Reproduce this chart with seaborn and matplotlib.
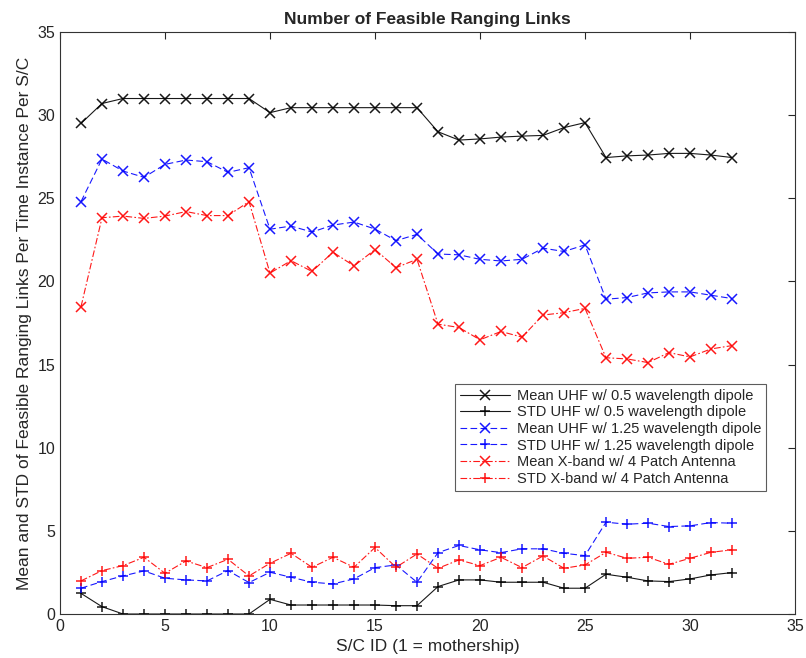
import numpy as np
import pandas as pd
import matplotlib
matplotlib.use("Agg")
import matplotlib.pyplot as plt
import seaborn as sns

sc_id = list(range(1, 33))

mean_uhf05 = [29.5, 30.7, 31.0, 31.0, 31.0, 31.0, 31.0, 31.0, 31.0, 30.15, 30.45, 30.45,
              30.45, 30.45, 30.45, 30.45, 30.45, 29.0, 28.5, 28.57, 28.68, 28.74, 28.78,
              29.25, 29.55, 27.45, 27.55, 27.6, 27.7, 27.7, 27.6, 27.45]
std_uhf05 = [1.24, 0.44, 0.0, 0.0, 0.0, 0.0, 0.0, 0.0, 0.0, 0.88, 0.54, 0.54,
             0.54, 0.54, 0.54, 0.5, 0.5, 1.65, 2.05, 2.05, 1.91, 1.91, 1.91,
             1.55, 1.55, 2.39, 2.21, 1.99, 1.95, 2.11, 2.35, 2.49]
mean_uhf125 = [24.8, 27.36, 26.64, 26.26, 27.04, 27.3, 27.2, 26.56, 26.84, 23.14, 23.33, 22.97,
               23.39, 23.57, 23.15, 22.45, 22.83, 21.65, 21.6, 21.33, 21.23, 21.33, 22.0,
               21.8, 22.2, 18.93, 19.03, 19.31, 19.37, 19.37, 19.17, 18.97]
std_uhf125 = [1.55, 1.95, 2.29, 2.59, 2.15, 2.05, 1.99, 2.61, 1.89, 2.51, 2.21, 1.91,
              1.81, 2.11, 2.79, 2.95, 1.91, 3.69, 4.12, 3.86, 3.69, 3.92, 3.92,
              3.65, 3.51, 5.52, 5.4, 5.46, 5.26, 5.3, 5.5, 5.46]
mean_xband = [18.48, 23.83, 23.93, 23.79, 23.93, 24.2, 23.96, 23.96, 24.8, 20.5, 21.25, 20.6,
              21.76, 20.93, 21.92, 20.83, 21.33, 17.43, 17.23, 16.49, 16.99, 16.65, 17.98,
              18.12, 18.38, 15.41, 15.34, 15.12, 15.72, 15.46, 15.94, 16.14]
std_xband = [1.99, 2.61, 2.91, 3.41, 2.45, 3.19, 2.79, 3.29, 2.29, 3.05, 3.65, 2.81,
             3.41, 2.81, 4.0, 2.81, 3.61, 2.75, 3.25, 2.91, 3.41, 2.79, 3.49,
             2.75, 2.95, 3.71, 3.35, 3.41, 2.99, 3.35, 3.71, 3.86]

labels = ["Mean UHF w/ 0.5 wavelength dipole",
          "STD UHF w/ 0.5 wavelength dipole",
          "Mean UHF w/ 1.25 wavelength dipole",
          "STD UHF w/ 1.25 wavelength dipole",
          "Mean X-band w/ 4 Patch Antenna",
          "STD X-band w/ 4 Patch Antenna"]
series = [mean_uhf05, std_uhf05, mean_uhf125, std_uhf125, mean_xband, std_xband]
colors = ["black", "black", "blue", "blue", "red", "red"]
dash_styles = ["", "", (6, 3), (6, 3), (6, 2, 1.5, 2), (6, 2, 1.5, 2)]
marker_styles = ["x", "+", "x", "+", "x", "+"]

df = pd.concat([pd.DataFrame({"x": sc_id, "y": v, "series": lab})
                for lab, v in zip(labels, series)], ignore_index=True)

sns.set_style("white")
plt.rcParams["font.family"] = ["Liberation Sans", "DejaVu Sans"]

fig = plt.figure(figsize=(8.06, 6.58), dpi=100)
ax = fig.add_axes([60 / 806, 1 - 614 / 658, 735 / 806, 582 / 658])

sns.lineplot(data=df, x="x", y="y", hue="series", style="series",
             hue_order=labels, style_order=labels,
             palette=dict(zip(labels, colors)),
             dashes=dict(zip(labels, dash_styles)),
             markers=dict(zip(labels, marker_styles)),
             linewidth=0.8, ax=ax)

for ln in ax.lines:
    ln.set_markeredgecolor(ln.get_color())
    ln.set_markersize(7.5)
    ln.set_markeredgewidth(1.1)
    ln.set_alpha(0.9)

ax.set_xlim(0, 35)
ax.set_ylim(0, 35)
ax.set_xticks(range(0, 36, 5))
ax.set_yticks(range(0, 36, 5))
ax.tick_params(direction="in", top=True, right=True, labelsize=11.5, length=5, width=0.8)
for s in ax.spines.values():
    s.set_color("#333333")
    s.set_linewidth(0.8)
ax.set_xlabel("S/C ID (1 = mothership)", fontsize=12.5)
ax.set_ylabel("Mean and STD of Feasible Ranging Links Per Time Instance Per S/C", fontsize=12.5)
ax.set_title("Number of Feasible Ranging Links", fontsize=12.5, fontweight="bold", pad=6)

leg = ax.legend(loc="lower left", bbox_to_anchor=(0.528, 0.199), fontsize=10.5,
                frameon=True, fancybox=False, borderpad=0.35, labelspacing=0.18,
                handlelength=3.4, handletextpad=0.45, title=None)
leg.get_frame().set_edgecolor("#333333")
leg.get_frame().set_linewidth(0.8)
for h in leg.legend_handles:
    h.set_markeredgecolor(h.get_color())
    h.set_markersize(6.5)
    h.set_markeredgewidth(1.1)

fig.savefig("out.png", dpi=100)
